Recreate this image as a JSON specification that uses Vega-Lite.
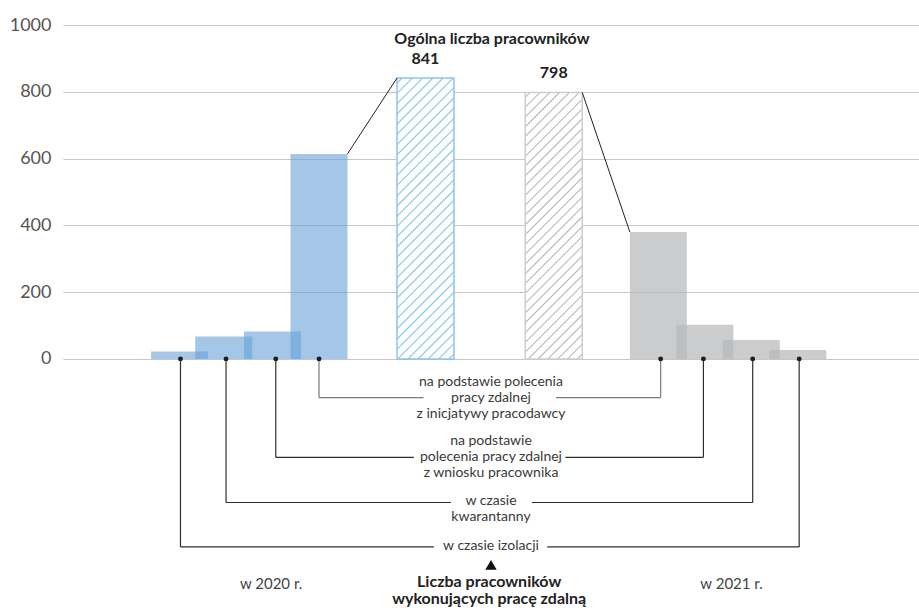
{
  "$schema": "https://vega.github.io/schema/vega-lite/v6.json",
  "width": 856,
  "height": 581,
  "autosize": {"type": "none"},
  "padding": {"left": 63, "top": 25, "right": 0, "bottom": 2},
  "config": {"view": {"stroke": null}, "font": "Lato", "text": {"font": "Lato"}},
  "datasets": {
    "slupki": [
      {"rok": "2020", "kategoria": "w czasie izolacji", "liczba": 22, "slot": 1},
      {"rok": "2020", "kategoria": "w czasie kwarantanny", "liczba": 67, "slot": 1.95},
      {"rok": "2020", "kategoria": "z wniosku pracownika", "liczba": 82, "slot": 3},
      {"rok": "2020", "kategoria": "z inicjatywy pracodawcy", "liczba": 614, "slot": 4},
      {"rok": "2021", "kategoria": "z inicjatywy pracodawcy", "liczba": 380, "slot": 11.3},
      {"rok": "2021", "kategoria": "z wniosku pracownika", "liczba": 102, "slot": 12.3},
      {"rok": "2021", "kategoria": "w czasie kwarantanny", "liczba": 57, "slot": 13.3},
      {"rok": "2021", "kategoria": "w czasie izolacji", "liczba": 27, "slot": 14.3}
    ],
    "ogolem": [
      {"rok": "2020", "liczba": 841, "slot": 6.29},
      {"rok": "2021", "liczba": 798, "slot": 9.05}
    ],
    "polaczenia": [
      {"rok": "2020", "x_od": 4, "y_od": 614, "x_do": 6.29, "y_do": 841},
      {"rok": "2021", "x_od": 9.05, "y_od": 798, "x_do": 11.3, "y_do": 380}
    ],
    "klamry": [
      {"kategoria": "z inicjatywy pracodawcy", "etykieta": "na podstawie polecenia\npracy zdalnej\nz inicjatywy pracodawcy", "x2020": 4.0, "x2021": 11.35, "poziom": -116, "przerwa_od": 6.25, "przerwa_do": 9.10},
      {"kategoria": "z wniosku pracownika", "etykieta": "na podstawie\npolecenia pracy zdalnej\nz wniosku pracownika", "x2020": 3.07, "x2021": 12.27, "poziom": -295, "przerwa_od": 6.04, "przerwa_do": 9.30},
      {"kategoria": "w czasie kwarantanny", "etykieta": "w czasie\nkwarantanny", "x2020": 2.0, "x2021": 13.33, "poziom": -430, "przerwa_od": 6.84, "przerwa_do": 8.58},
      {"kategoria": "w czasie izolacji", "etykieta": "w czasie izolacji", "x2020": 1.02, "x2021": 14.33, "poziom": -563, "przerwa_od": 6.47, "przerwa_do": 8.91}
    ]
  },
  "layer": [
    {
      "data": {"name": "slupki"},
      "mark": {"type": "bar", "width": 57},
      "encoding": {
        "x": {"field": "slot", "type": "quantitative", "scale": {"domain": [-1.4, 16.8], "nice": false, "zero": false}, "axis": null},
        "y": {"field": "liczba", "type": "quantitative", "stack": null, "scale": {"domain": [-740, 1000], "nice": false, "zero": false},
          "axis": {"values": [0, 200, 400, 600, 800, 1000], "format": "d", "title": null, "grid": true, "gridColor": "#c6c6c6", "gridWidth": 1, "domain": false, "ticks": false, "labelFontSize": 18, "labelColor": "#555555", "labelPadding": 12, "labelFont": "Lato"}},
        "color": {"field": "rok", "type": "nominal", "scale": {"domain": ["2020", "2021"], "range": ["#67a2d8", "#b8b9bc"]}, "legend": null},
        "opacity": {"field": "rok", "type": "nominal", "scale": {"domain": ["2020", "2021"], "range": [0.6, 0.73]}, "legend": null}
      }
    },
    {
      "data": {"name": "ogolem"},
      "transform": [{"filter": "datum.rok === '2020'"}],
      "mark": {"type": "bar", "width": 57, "stroke": "#8fc3ea", "strokeWidth": 1.5,
        "fill": {"gradient": "linear", "x1": 0, "y1": 0, "x2": 0.2345, "y2": 1.1554, "stops": [
          {"offset": 0.0107, "color": "#ffffff"}, {"offset": 0.0152, "color": "#80c2ee"}, {"offset": 0.0197, "color": "#ffffff"},
          {"offset": 0.0410, "color": "#ffffff"}, {"offset": 0.0455, "color": "#80c2ee"}, {"offset": 0.0500, "color": "#ffffff"},
          {"offset": 0.0713, "color": "#ffffff"}, {"offset": 0.0758, "color": "#80c2ee"}, {"offset": 0.0803, "color": "#ffffff"},
          {"offset": 0.1016, "color": "#ffffff"}, {"offset": 0.1061, "color": "#80c2ee"}, {"offset": 0.1106, "color": "#ffffff"},
          {"offset": 0.1319, "color": "#ffffff"}, {"offset": 0.1364, "color": "#80c2ee"}, {"offset": 0.1409, "color": "#ffffff"},
          {"offset": 0.1622, "color": "#ffffff"}, {"offset": 0.1667, "color": "#80c2ee"}, {"offset": 0.1712, "color": "#ffffff"},
          {"offset": 0.1925, "color": "#ffffff"}, {"offset": 0.1970, "color": "#80c2ee"}, {"offset": 0.2015, "color": "#ffffff"},
          {"offset": 0.2228, "color": "#ffffff"}, {"offset": 0.2273, "color": "#80c2ee"}, {"offset": 0.2318, "color": "#ffffff"},
          {"offset": 0.2531, "color": "#ffffff"}, {"offset": 0.2576, "color": "#80c2ee"}, {"offset": 0.2621, "color": "#ffffff"},
          {"offset": 0.2834, "color": "#ffffff"}, {"offset": 0.2879, "color": "#80c2ee"}, {"offset": 0.2924, "color": "#ffffff"},
          {"offset": 0.3137, "color": "#ffffff"}, {"offset": 0.3182, "color": "#80c2ee"}, {"offset": 0.3227, "color": "#ffffff"},
          {"offset": 0.3440, "color": "#ffffff"}, {"offset": 0.3485, "color": "#80c2ee"}, {"offset": 0.3530, "color": "#ffffff"},
          {"offset": 0.3743, "color": "#ffffff"}, {"offset": 0.3788, "color": "#80c2ee"}, {"offset": 0.3833, "color": "#ffffff"},
          {"offset": 0.4046, "color": "#ffffff"}, {"offset": 0.4091, "color": "#80c2ee"}, {"offset": 0.4136, "color": "#ffffff"},
          {"offset": 0.4349, "color": "#ffffff"}, {"offset": 0.4394, "color": "#80c2ee"}, {"offset": 0.4439, "color": "#ffffff"},
          {"offset": 0.4652, "color": "#ffffff"}, {"offset": 0.4697, "color": "#80c2ee"}, {"offset": 0.4742, "color": "#ffffff"},
          {"offset": 0.4955, "color": "#ffffff"}, {"offset": 0.5000, "color": "#80c2ee"}, {"offset": 0.5045, "color": "#ffffff"},
          {"offset": 0.5258, "color": "#ffffff"}, {"offset": 0.5303, "color": "#80c2ee"}, {"offset": 0.5348, "color": "#ffffff"},
          {"offset": 0.5561, "color": "#ffffff"}, {"offset": 0.5606, "color": "#80c2ee"}, {"offset": 0.5651, "color": "#ffffff"},
          {"offset": 0.5864, "color": "#ffffff"}, {"offset": 0.5909, "color": "#80c2ee"}, {"offset": 0.5954, "color": "#ffffff"},
          {"offset": 0.6167, "color": "#ffffff"}, {"offset": 0.6212, "color": "#80c2ee"}, {"offset": 0.6257, "color": "#ffffff"},
          {"offset": 0.6470, "color": "#ffffff"}, {"offset": 0.6515, "color": "#80c2ee"}, {"offset": 0.6560, "color": "#ffffff"},
          {"offset": 0.6773, "color": "#ffffff"}, {"offset": 0.6818, "color": "#80c2ee"}, {"offset": 0.6863, "color": "#ffffff"},
          {"offset": 0.7076, "color": "#ffffff"}, {"offset": 0.7121, "color": "#80c2ee"}, {"offset": 0.7166, "color": "#ffffff"},
          {"offset": 0.7379, "color": "#ffffff"}, {"offset": 0.7424, "color": "#80c2ee"}, {"offset": 0.7469, "color": "#ffffff"},
          {"offset": 0.7682, "color": "#ffffff"}, {"offset": 0.7727, "color": "#80c2ee"}, {"offset": 0.7772, "color": "#ffffff"},
          {"offset": 0.7985, "color": "#ffffff"}, {"offset": 0.8030, "color": "#80c2ee"}, {"offset": 0.8075, "color": "#ffffff"},
          {"offset": 0.8288, "color": "#ffffff"}, {"offset": 0.8333, "color": "#80c2ee"}, {"offset": 0.8378, "color": "#ffffff"},
          {"offset": 0.8591, "color": "#ffffff"}, {"offset": 0.8636, "color": "#80c2ee"}, {"offset": 0.8681, "color": "#ffffff"},
          {"offset": 0.8894, "color": "#ffffff"}, {"offset": 0.8939, "color": "#80c2ee"}, {"offset": 0.8984, "color": "#ffffff"},
          {"offset": 0.9197, "color": "#ffffff"}, {"offset": 0.9242, "color": "#80c2ee"}, {"offset": 0.9287, "color": "#ffffff"},
          {"offset": 0.9500, "color": "#ffffff"}, {"offset": 0.9545, "color": "#80c2ee"}, {"offset": 0.9590, "color": "#ffffff"},
          {"offset": 0.9803, "color": "#ffffff"}, {"offset": 0.9848, "color": "#80c2ee"}, {"offset": 0.9893, "color": "#ffffff"}
        ]}},
      "encoding": {
        "x": {"field": "slot", "type": "quantitative", "scale": {"domain": [-1.4, 16.8], "nice": false, "zero": false}, "axis": null},
        "y": {"field": "liczba", "type": "quantitative", "stack": null, "title": null, "scale": {"domain": [-740, 1000], "nice": false, "zero": false}}
      }
    },
    {
      "data": {"name": "ogolem"},
      "transform": [{"filter": "datum.rok === '2021'"}],
      "mark": {"type": "bar", "width": 57, "stroke": "#cdcdcd", "strokeWidth": 1.5,
        "fill": {"gradient": "linear", "x1": 0, "y1": 0, "x2": 0.2483, "y2": 1.1608, "stops": [
          {"offset": 0.0107, "color": "#ffffff"}, {"offset": 0.0152, "color": "#b3b3b3"}, {"offset": 0.0197, "color": "#ffffff"},
          {"offset": 0.0410, "color": "#ffffff"}, {"offset": 0.0455, "color": "#b3b3b3"}, {"offset": 0.0500, "color": "#ffffff"},
          {"offset": 0.0713, "color": "#ffffff"}, {"offset": 0.0758, "color": "#b3b3b3"}, {"offset": 0.0803, "color": "#ffffff"},
          {"offset": 0.1016, "color": "#ffffff"}, {"offset": 0.1061, "color": "#b3b3b3"}, {"offset": 0.1106, "color": "#ffffff"},
          {"offset": 0.1319, "color": "#ffffff"}, {"offset": 0.1364, "color": "#b3b3b3"}, {"offset": 0.1409, "color": "#ffffff"},
          {"offset": 0.1622, "color": "#ffffff"}, {"offset": 0.1667, "color": "#b3b3b3"}, {"offset": 0.1712, "color": "#ffffff"},
          {"offset": 0.1925, "color": "#ffffff"}, {"offset": 0.1970, "color": "#b3b3b3"}, {"offset": 0.2015, "color": "#ffffff"},
          {"offset": 0.2228, "color": "#ffffff"}, {"offset": 0.2273, "color": "#b3b3b3"}, {"offset": 0.2318, "color": "#ffffff"},
          {"offset": 0.2531, "color": "#ffffff"}, {"offset": 0.2576, "color": "#b3b3b3"}, {"offset": 0.2621, "color": "#ffffff"},
          {"offset": 0.2834, "color": "#ffffff"}, {"offset": 0.2879, "color": "#b3b3b3"}, {"offset": 0.2924, "color": "#ffffff"},
          {"offset": 0.3137, "color": "#ffffff"}, {"offset": 0.3182, "color": "#b3b3b3"}, {"offset": 0.3227, "color": "#ffffff"},
          {"offset": 0.3440, "color": "#ffffff"}, {"offset": 0.3485, "color": "#b3b3b3"}, {"offset": 0.3530, "color": "#ffffff"},
          {"offset": 0.3743, "color": "#ffffff"}, {"offset": 0.3788, "color": "#b3b3b3"}, {"offset": 0.3833, "color": "#ffffff"},
          {"offset": 0.4046, "color": "#ffffff"}, {"offset": 0.4091, "color": "#b3b3b3"}, {"offset": 0.4136, "color": "#ffffff"},
          {"offset": 0.4349, "color": "#ffffff"}, {"offset": 0.4394, "color": "#b3b3b3"}, {"offset": 0.4439, "color": "#ffffff"},
          {"offset": 0.4652, "color": "#ffffff"}, {"offset": 0.4697, "color": "#b3b3b3"}, {"offset": 0.4742, "color": "#ffffff"},
          {"offset": 0.4955, "color": "#ffffff"}, {"offset": 0.5000, "color": "#b3b3b3"}, {"offset": 0.5045, "color": "#ffffff"},
          {"offset": 0.5258, "color": "#ffffff"}, {"offset": 0.5303, "color": "#b3b3b3"}, {"offset": 0.5348, "color": "#ffffff"},
          {"offset": 0.5561, "color": "#ffffff"}, {"offset": 0.5606, "color": "#b3b3b3"}, {"offset": 0.5651, "color": "#ffffff"},
          {"offset": 0.5864, "color": "#ffffff"}, {"offset": 0.5909, "color": "#b3b3b3"}, {"offset": 0.5954, "color": "#ffffff"},
          {"offset": 0.6167, "color": "#ffffff"}, {"offset": 0.6212, "color": "#b3b3b3"}, {"offset": 0.6257, "color": "#ffffff"},
          {"offset": 0.6470, "color": "#ffffff"}, {"offset": 0.6515, "color": "#b3b3b3"}, {"offset": 0.6560, "color": "#ffffff"},
          {"offset": 0.6773, "color": "#ffffff"}, {"offset": 0.6818, "color": "#b3b3b3"}, {"offset": 0.6863, "color": "#ffffff"},
          {"offset": 0.7076, "color": "#ffffff"}, {"offset": 0.7121, "color": "#b3b3b3"}, {"offset": 0.7166, "color": "#ffffff"},
          {"offset": 0.7379, "color": "#ffffff"}, {"offset": 0.7424, "color": "#b3b3b3"}, {"offset": 0.7469, "color": "#ffffff"},
          {"offset": 0.7682, "color": "#ffffff"}, {"offset": 0.7727, "color": "#b3b3b3"}, {"offset": 0.7772, "color": "#ffffff"},
          {"offset": 0.7985, "color": "#ffffff"}, {"offset": 0.8030, "color": "#b3b3b3"}, {"offset": 0.8075, "color": "#ffffff"},
          {"offset": 0.8288, "color": "#ffffff"}, {"offset": 0.8333, "color": "#b3b3b3"}, {"offset": 0.8378, "color": "#ffffff"},
          {"offset": 0.8591, "color": "#ffffff"}, {"offset": 0.8636, "color": "#b3b3b3"}, {"offset": 0.8681, "color": "#ffffff"},
          {"offset": 0.8894, "color": "#ffffff"}, {"offset": 0.8939, "color": "#b3b3b3"}, {"offset": 0.8984, "color": "#ffffff"},
          {"offset": 0.9197, "color": "#ffffff"}, {"offset": 0.9242, "color": "#b3b3b3"}, {"offset": 0.9287, "color": "#ffffff"},
          {"offset": 0.9500, "color": "#ffffff"}, {"offset": 0.9545, "color": "#b3b3b3"}, {"offset": 0.9590, "color": "#ffffff"},
          {"offset": 0.9803, "color": "#ffffff"}, {"offset": 0.9848, "color": "#b3b3b3"}, {"offset": 0.9893, "color": "#ffffff"}
        ]}},
      "encoding": {
        "x": {"field": "slot", "type": "quantitative", "scale": {"domain": [-1.4, 16.8], "nice": false, "zero": false}, "axis": null},
        "y": {"field": "liczba", "type": "quantitative", "stack": null, "title": null, "scale": {"domain": [-740, 1000], "nice": false, "zero": false}}
      }
    },
    {
      "data": {"name": "ogolem"},
      "mark": {"type": "text", "fontSize": 16, "fontWeight": "bold", "color": "#222222", "baseline": "alphabetic", "dy": -14},
      "encoding": {
        "x": {"field": "slot", "type": "quantitative", "scale": {"domain": [-1.4, 16.8], "nice": false, "zero": false}, "axis": null},
        "y": {"field": "liczba", "type": "quantitative", "title": null, "scale": {"domain": [-740, 1000], "nice": false, "zero": false}},
        "text": {"field": "liczba", "type": "quantitative"}
      }
    },
    {
      "data": {"name": "polaczenia"},
      "mark": {"type": "rule", "color": "#222222", "strokeWidth": 1, "xOffset": 28.5, "x2Offset": -28.5},
      "encoding": {
        "x": {"field": "x_od", "type": "quantitative", "scale": {"domain": [-1.4, 16.8], "nice": false, "zero": false}, "axis": null},
        "x2": {"field": "x_do"},
        "y": {"field": "y_od", "type": "quantitative", "title": null, "scale": {"domain": [-740, 1000], "nice": false, "zero": false}},
        "y2": {"field": "y_do"}
      }
    },
    {
      "data": {"name": "klamry"},
      "transform": [{"fold": ["x2020", "x2021"], "as": ["rok", "pozycja"]}],
      "mark": {"type": "rule", "strokeWidth": 1.2},
      "encoding": {
        "x": {"field": "pozycja", "type": "quantitative", "scale": {"domain": [-1.4, 16.8], "nice": false, "zero": false}, "axis": null},
        "y": {"field": "poziom", "type": "quantitative", "title": null, "scale": {"domain": [-740, 1000], "nice": false, "zero": false}},
        "y2": {"datum": 0},
        "color": {"condition": {"test": "datum.kategoria === 'z inicjatywy pracodawcy'", "value": "#7a7a7a"}, "value": "#2e2e2e"}
      }
    },
    {
      "data": {"name": "klamry"},
      "mark": {"type": "rule", "strokeWidth": 1.2},
      "encoding": {
        "x": {"field": "x2020", "type": "quantitative", "scale": {"domain": [-1.4, 16.8], "nice": false, "zero": false}, "axis": null},
        "x2": {"field": "przerwa_od"},
        "y": {"field": "poziom", "type": "quantitative", "title": null, "scale": {"domain": [-740, 1000], "nice": false, "zero": false}},
        "color": {"condition": {"test": "datum.kategoria === 'z inicjatywy pracodawcy'", "value": "#7a7a7a"}, "value": "#2e2e2e"}
      }
    },
    {
      "data": {"name": "klamry"},
      "mark": {"type": "rule", "strokeWidth": 1.2},
      "encoding": {
        "x": {"field": "przerwa_do", "type": "quantitative", "scale": {"domain": [-1.4, 16.8], "nice": false, "zero": false}, "axis": null},
        "x2": {"field": "x2021"},
        "y": {"field": "poziom", "type": "quantitative", "title": null, "scale": {"domain": [-740, 1000], "nice": false, "zero": false}},
        "color": {"condition": {"test": "datum.kategoria === 'z inicjatywy pracodawcy'", "value": "#7a7a7a"}, "value": "#2e2e2e"}
      }
    },
    {
      "data": {"name": "klamry"},
      "transform": [{"fold": ["x2020", "x2021"], "as": ["rok", "pozycja"]}],
      "mark": {"type": "point", "filled": true, "size": 24, "color": "#1e1e1e", "opacity": 1},
      "encoding": {
        "x": {"field": "pozycja", "type": "quantitative", "scale": {"domain": [-1.4, 16.8], "nice": false, "zero": false}, "axis": null},
        "y": {"datum": 0, "type": "quantitative", "title": null, "scale": {"domain": [-740, 1000], "nice": false, "zero": false}}
      }
    },
    {
      "data": {"name": "klamry"},
      "transform": [{"filter": "datum.kategoria === 'z inicjatywy pracodawcy' || datum.kategoria === 'z wniosku pracownika'"}],
      "mark": {"type": "text", "fontSize": 14, "color": "#3a3a3a", "baseline": "middle", "lineBreak": "\n", "lineHeight": 16, "dy": -16},
      "encoding": {
        "x": {"datum": 7.7, "type": "quantitative", "scale": {"domain": [-1.4, 16.8], "nice": false, "zero": false}, "axis": null},
        "y": {"field": "poziom", "type": "quantitative", "title": null, "scale": {"domain": [-740, 1000], "nice": false, "zero": false}},
        "text": {"field": "etykieta", "type": "nominal"}
      }
    },
    {
      "data": {"name": "klamry"},
      "transform": [{"filter": "datum.kategoria === 'w czasie kwarantanny' || datum.kategoria === 'w czasie izolacji'"}],
      "mark": {"type": "text", "fontSize": 14, "color": "#3a3a3a", "baseline": "middle", "lineBreak": "\n", "lineHeight": 16, "dy": -1},
      "encoding": {
        "x": {"datum": 7.7, "type": "quantitative", "scale": {"domain": [-1.4, 16.8], "nice": false, "zero": false}, "axis": null},
        "y": {"field": "poziom", "type": "quantitative", "title": null, "scale": {"domain": [-740, 1000], "nice": false, "zero": false}},
        "text": {"field": "etykieta", "type": "nominal"}
      }
    },
    {
      "data": {"values": [{"tytul": "Ogólna liczba pracowników"}]},
      "mark": {"type": "text", "fontSize": 16, "fontWeight": "bold", "color": "#222222", "baseline": "alphabetic"},
      "encoding": {
        "x": {"datum": 7.72, "type": "quantitative", "scale": {"domain": [-1.4, 16.8], "nice": false, "zero": false}, "axis": null},
        "y": {"datum": 943, "type": "quantitative", "title": null, "scale": {"domain": [-740, 1000], "nice": false, "zero": false}},
        "text": {"field": "tytul", "type": "nominal"}
      }
    },
    {
      "data": {"values": [{"rok": "w 2020 r."}]},
      "mark": {"type": "text", "fontSize": 15, "color": "#444444", "baseline": "alphabetic"},
      "encoding": {
        "x": {"datum": 2.97, "type": "quantitative", "scale": {"domain": [-1.4, 16.8], "nice": false, "zero": false}, "axis": null},
        "y": {"datum": -688, "type": "quantitative", "title": null, "scale": {"domain": [-740, 1000], "nice": false, "zero": false}},
        "text": {"field": "rok", "type": "nominal"}
      }
    },
    {
      "data": {"values": [{"rok": "w 2021 r."}]},
      "mark": {"type": "text", "fontSize": 15, "color": "#444444", "baseline": "alphabetic"},
      "encoding": {
        "x": {"datum": 12.875, "type": "quantitative", "scale": {"domain": [-1.4, 16.8], "nice": false, "zero": false}, "axis": null},
        "y": {"datum": -688, "type": "quantitative", "title": null, "scale": {"domain": [-740, 1000], "nice": false, "zero": false}},
        "text": {"field": "rok", "type": "nominal"}
      }
    },
    {
      "data": {"values": [{"znak": "strzałka"}]},
      "mark": {"type": "point", "shape": "triangle-up", "filled": true, "size": 130, "color": "#111111", "opacity": 1},
      "encoding": {
        "x": {"datum": 7.7, "type": "quantitative", "scale": {"domain": [-1.4, 16.8], "nice": false, "zero": false}, "axis": null},
        "y": {"datum": -617, "type": "quantitative", "title": null, "scale": {"domain": [-740, 1000], "nice": false, "zero": false}}
      }
    },
    {
      "data": {"values": [{"tytul": "Liczba pracowników\nwykonujących pracę zdalną"}]},
      "mark": {"type": "text", "fontSize": 16, "fontWeight": "bold", "color": "#222222", "baseline": "alphabetic", "lineBreak": "\n", "lineHeight": 17.6},
      "encoding": {
        "x": {"datum": 7.66, "type": "quantitative", "scale": {"domain": [-1.4, 16.8], "nice": false, "zero": false}, "axis": null},
        "y": {"datum": -682, "type": "quantitative", "title": null, "scale": {"domain": [-740, 1000], "nice": false, "zero": false}},
        "text": {"field": "tytul", "type": "nominal"}
      }
    }
  ]
}
